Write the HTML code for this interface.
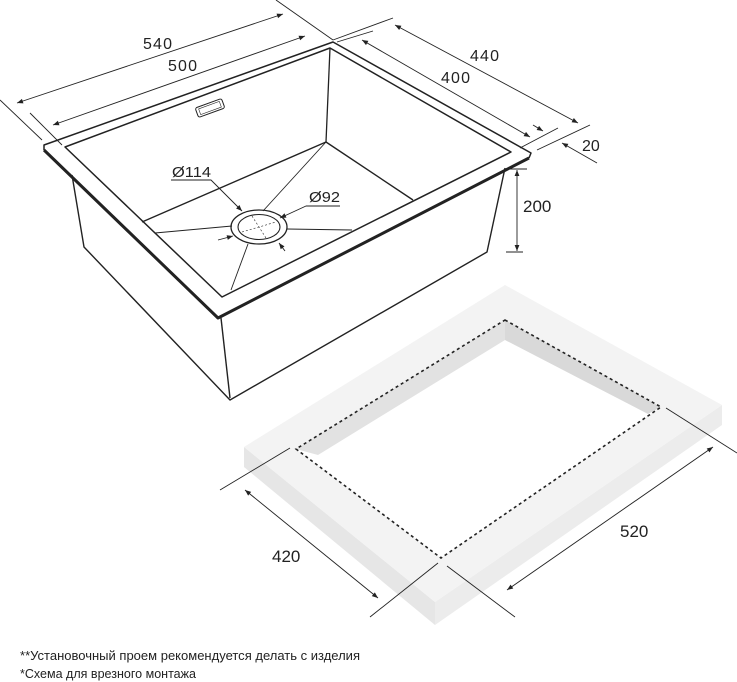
<!DOCTYPE html>
<html><head><meta charset="utf-8"><style>
html,body{margin:0;padding:0;background:#fff;}
svg{display:block;}
text{font-family:"Liberation Sans","DejaVu Sans",sans-serif;fill:#222;}
</style></head><body>
<svg width="737" height="682" viewBox="0 0 737 682" xmlns="http://www.w3.org/2000/svg">
<defs>
<marker id="a" viewBox="0 0 10 10" refX="10" refY="5" markerWidth="8" markerHeight="6" orient="auto-start-reverse" markerUnits="userSpaceOnUse"><path d="M0,1 L10,5 L0,9 z" fill="#222"/></marker>
</defs>

<!-- countertop -->
<polygon points="244,447 435,602 435,625 244,467" fill="#e6e6e6"/>
<polygon points="435,602 722,405 722,425 435,625" fill="#ececec"/>
<polygon points="505,285 722,405 435,602 244,447" fill="#f3f3f3"/>
<polygon points="505,320 661,407 441,558 296,449" fill="#fff"/>
<polygon points="296,449 505,320 505,340 318,455" fill="#e2e2e2"/>
<polygon points="505,320 661,407 648,414 505,340" fill="#d9d9d9"/>
<polygon points="505,320 661,407 441,558 296,449" fill="none" stroke="#222" stroke-width="1.6" stroke-dasharray="3,3"/>

<!-- countertop dims -->
<g stroke="#222" stroke-width="0.9" fill="none">
<line x1="220" y1="490" x2="290" y2="448"/>
<line x1="370" y1="617" x2="438" y2="563"/>
<line x1="447" y1="566" x2="515" y2="617"/>
<line x1="666" y1="408" x2="737" y2="453"/>
<line x1="245" y1="490" x2="378" y2="598" marker-start="url(#a)" marker-end="url(#a)"/>
<line x1="507" y1="590" x2="713" y2="447" marker-start="url(#a)" marker-end="url(#a)"/>
</g>
<text x="272" y="562" font-size="17">420</text>
<text x="620" y="537" font-size="17">520</text>

<!-- sink body -->
<g stroke="#222" fill="none" stroke-linejoin="round">
<polyline points="72,175 84,247 230,400 487,252 505,168" stroke-width="1.4"/>
<line x1="221" y1="318" x2="230" y2="398" stroke-width="1.4"/>
<polyline points="44,150 44,145 333,42 531,153 529,158" stroke-width="1.5"/>
<polyline points="44,150 218,318 529,158" stroke-width="3"/>
<polygon points="65,147 330,48 511,152 222,297" stroke-width="1.5"/>
<line x1="330" y1="48" x2="326" y2="142" stroke-width="1.3"/>
<polyline points="142,222 326,142 413,200" stroke-width="1.4"/>
<g stroke-width="0.9">
<line x1="326" y1="142" x2="263" y2="211"/>
<line x1="155" y1="233" x2="232" y2="226"/>
<line x1="287" y1="229" x2="352" y2="230"/>
<line x1="248" y1="244" x2="231" y2="290"/>
</g>
<ellipse cx="259" cy="227" rx="28" ry="17" stroke-width="1.3"/>
<ellipse cx="259" cy="227" rx="21" ry="12.5" stroke-width="1.1"/>
<g stroke-width="0.6" stroke-dasharray="2,2">
<line x1="242" y1="232" x2="276" y2="222"/>
<line x1="252" y1="216" x2="266" y2="238"/>
</g>
<rect x="196" y="103" width="28" height="10" rx="2" transform="rotate(-20 210 108)" stroke-width="1"/>
<rect x="199" y="105" width="22" height="6" transform="rotate(-20 210 108)" stroke-width="0.6"/>
<g stroke-width="0.9">
<polyline points="171,180 211,180 242,211" marker-end="url(#a)"/>
<polyline points="340,206 306,206 280,218" marker-end="url(#a)"/>
<line x1="218" y1="240" x2="233" y2="236" marker-end="url(#a)"/>
<line x1="285" y1="251" x2="279" y2="243" marker-end="url(#a)"/>
</g>
</g>
<text x="172" y="177" font-size="15" textLength="39" lengthAdjust="spacingAndGlyphs">Ø114</text>
<text x="309" y="202" font-size="15" textLength="31" lengthAdjust="spacingAndGlyphs">Ø92</text>

<!-- sink dims -->
<g stroke="#222" stroke-width="0.9" fill="none">
<line x1="0" y1="100" x2="42" y2="140"/>
<line x1="30" y1="113" x2="62" y2="145"/>
<line x1="276" y1="0" x2="333" y2="40"/>
<line x1="333" y1="40" x2="393" y2="18"/>
<line x1="337" y1="42" x2="373" y2="31"/>
<line x1="17" y1="103" x2="283" y2="14" marker-start="url(#a)" marker-end="url(#a)"/>
<line x1="53" y1="125" x2="305" y2="36" marker-start="url(#a)" marker-end="url(#a)"/>
<line x1="395" y1="25" x2="578" y2="123" marker-start="url(#a)" marker-end="url(#a)"/>
<line x1="362" y1="40" x2="530" y2="137" marker-start="url(#a)" marker-end="url(#a)"/>
<line x1="520" y1="148" x2="558" y2="128"/>
<line x1="537" y1="150" x2="590" y2="125"/>
<line x1="533" y1="125" x2="543" y2="131" marker-end="url(#a)"/>
<line x1="597" y1="163" x2="562" y2="143" marker-end="url(#a)"/>
<line x1="510" y1="169" x2="527" y2="169"/>
<line x1="506" y1="252" x2="523" y2="252"/>
<line x1="517" y1="170" x2="517" y2="251" marker-start="url(#a)" marker-end="url(#a)"/>
</g>
<text x="143" y="49" font-size="16" textLength="29">540</text>
<text x="168" y="71" font-size="16" textLength="29">500</text>
<text x="470" y="61" font-size="16" textLength="29">440</text>
<text x="441" y="83" font-size="16" textLength="29">400</text>
<text x="582" y="151" font-size="16">20</text>
<text x="523" y="212" font-size="17">200</text>

<text x="20" y="660" font-size="13" textLength="340" lengthAdjust="spacingAndGlyphs">**Установочный проем рекомендуется делать с изделия</text>
<text x="20" y="678" font-size="13" textLength="176" lengthAdjust="spacingAndGlyphs">*Схема для врезного монтажа</text>
</svg>
</body></html>
